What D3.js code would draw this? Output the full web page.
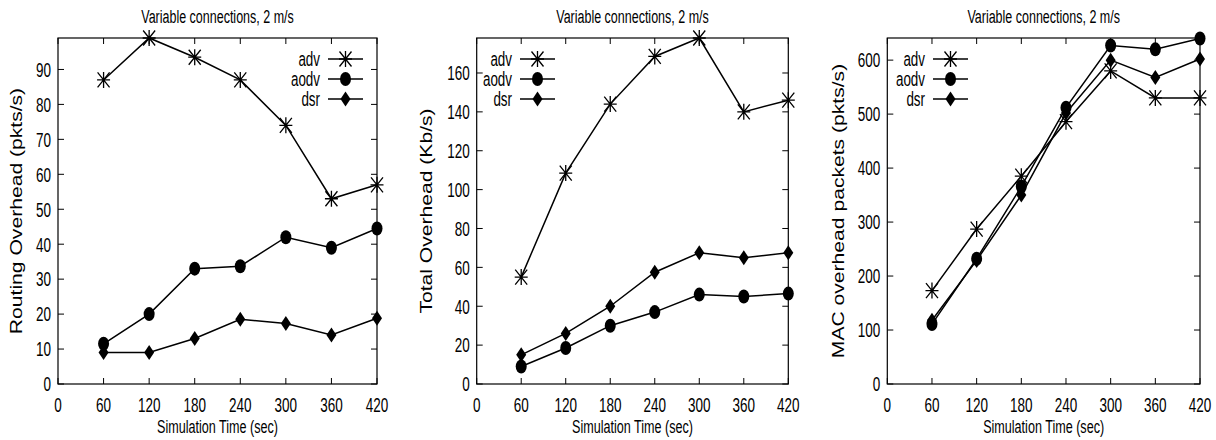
<!DOCTYPE html>
<html>
<head>
<meta charset="utf-8">
<script src="https://cdn.jsdelivr.net/npm/d3@7"></script>
<style>
  body { margin: 0; background: #fff; }
  svg { display: block; }
  text { font-family: 'Liberation Sans', Arial, Helvetica, sans-serif; fill: #000; }
</style>
</head>
<body>
<div id="chart"></div>
<script>
// shared data
const times = [60, 120, 180, 240, 300, 360, 420];
const xTicks = [0, 60, 120, 180, 240, 300, 360, 420];
const seriesNames = ['adv', 'aodv', 'dsr'];
const titleText = 'Variable connections, 2 m/s';
const xLabel = 'Simulation Time (sec)';

// panel 1: routing overhead
const routingAdv = [87, 99, 93.5, 87, 74, 53, 57];
const routingAodv = [11.5, 20, 33, 33.7, 42, 39, 44.5];
const routingDsr = [9, 9, 13, 18.5, 17.3, 14, 18.8];
const routingTicks = [0, 10, 20, 30, 40, 50, 60, 70, 80, 90];

// panel 2: total overhead
const totalAdv = [55, 108.5, 144, 168.5, 178, 140, 146];
const totalAodv = [9, 18.5, 30, 37, 46, 45, 46.5];
const totalDsr = [15, 26, 40, 57.5, 67.5, 65, 67.5];
const totalTicks = [0, 20, 40, 60, 80, 100, 120, 140, 160];

// panel 3: MAC overhead
const macAdv = [173, 287, 385, 486, 580, 530, 530];
const macAodv = [111, 232, 366, 512, 627, 620, 640];
const macDsr = [118, 229, 350, 502, 600, 568, 602];
const macTicks = [0, 100, 200, 300, 400, 500, 600];

const width = 1216, height = 440;
const plotTop = 38, plotBottom = 384;

const panels = [
    { left: 58, right: 377, yMax: 99, yTicks: routingTicks, yLabel: 'Routing Overhead (pkts/s)',
      labelX: 16, legendX: 328, series: [routingAdv, routingAodv, routingDsr] },
    { left: 476.7, right: 788.3, yMax: 178, yTicks: totalTicks, yLabel: 'Total Overhead (Kb/s)',
      labelX: 426, legendX: 520, series: [totalAdv, totalAodv, totalDsr] },
    { left: 887.3, right: 1200, yMax: 641, yTicks: macTicks, yLabel: 'MAC overhead packets (pkts/s)',
      labelX: 838, legendX: 933, series: [macAdv, macAodv, macDsr] }
];

const svg = d3.select('#chart').append('svg')
    .attr('width', width)
    .attr('height', height);

// marker shapes, drawn in pixel space (picture is stretched vertically)
const markerPaths = {
    adv: 'M-6.5,0H6.5M0,-8V8M-6,-7.5L6,7.5M-6,7.5L6,-7.5',
    dsr: 'M0,-7.5L5,0L0,7.5L-5,0Z'
};

function drawMarker(g, name, x, y) {
    if (name === 'aodv') {
        g.append('ellipse')
            .attr('cx', x).attr('cy', y)
            .attr('rx', 5.5).attr('ry', 7)
            .attr('fill', '#000');
    } else if (name === 'adv') {
        g.append('path')
            .attr('transform', `translate(${x},${y})`)
            .attr('d', markerPaths.adv)
            .attr('stroke', '#000')
            .attr('stroke-width', 1.3)
            .attr('fill', 'none');
    } else {
        g.append('path')
            .attr('transform', `translate(${x},${y})`)
            .attr('d', markerPaths.dsr)
            .attr('fill', '#000');
    }
}

// helper for squished text
function stretchedText(parent, x, y, str, size, sy, anchor) {
    return parent.append('g')
        .attr('transform', `translate(${x},${y}) scale(1,${sy})`)
        .append('text')
        .attr('text-anchor', anchor)
        .style('font-size', size + 'px')
        .text(str);
}

panels.forEach(p => {
    const x = d3.scaleLinear().domain([0, 420]).range([p.left, p.right]);
    const y = d3.scaleLinear().domain([0, p.yMax]).range([plotBottom, plotTop]);
    const g = svg.append('g');

    // ticks (inward, mirrored)
    xTicks.forEach(t => {
        g.append('line').attr('x1', x(t)).attr('x2', x(t)).attr('y1', plotBottom).attr('y2', plotBottom - 6)
            .attr('stroke', '#000');
        g.append('line').attr('x1', x(t)).attr('x2', x(t)).attr('y1', plotTop).attr('y2', plotTop + 6)
            .attr('stroke', '#000');
        stretchedText(g, x(t), 412, String(t), 13.5, 1.5, 'middle');
    });
    p.yTicks.forEach(t => {
        g.append('line').attr('x1', p.left).attr('x2', p.left + 6).attr('y1', y(t)).attr('y2', y(t))
            .attr('stroke', '#000');
        g.append('line').attr('x1', p.right).attr('x2', p.right - 6).attr('y1', y(t)).attr('y2', y(t))
            .attr('stroke', '#000');
        stretchedText(g, p.left - 7, y(t) + 7.3, String(t), 13.5, 1.5, 'end');
    });

    // frame
    g.append('rect')
        .attr('x', p.left).attr('y', plotTop)
        .attr('width', p.right - p.left).attr('height', plotBottom - plotTop)
        .attr('fill', 'none')
        .attr('stroke', '#000')
        .attr('stroke-width', 1.2);

    // titles
    stretchedText(g, (p.left + p.right) / 2, 22.7, titleText, 12.5, 1.42, 'middle');
    stretchedText(g, (p.left + p.right) / 2, 433, xLabel, 12.6, 1.5, 'middle');
    g.append('text')
        .attr('transform', `translate(${p.labelX + 5.5},${(plotTop + plotBottom) / 2}) rotate(-90) scale(1.32,1)`)
        .attr('text-anchor', 'middle')
        .style('font-size', '16px')
        .text(p.yLabel);

    // series
    const line = d3.line()
        .x((d, i) => x(times[i]))
        .y(d => y(d));

    p.series.forEach((values, k) => {
        const name = seriesNames[k];
        g.append('path')
            .datum(values)
            .attr('d', line)
            .attr('fill', 'none')
            .attr('stroke', '#000')
            .attr('stroke-width', 1.5);
        values.forEach((v, i) => drawMarker(g, name, x(times[i]), y(v)));

        // legend entry
        const ly = 59 + k * 20;
        g.append('line')
            .attr('x1', p.legendX).attr('x2', p.legendX + 35)
            .attr('y1', ly).attr('y2', ly)
            .attr('stroke', '#000')
            .attr('stroke-width', 1.5);
        drawMarker(g, name, p.legendX + 17.5, ly);
        stretchedText(g, p.legendX - 8, ly + 6.5, name, 13.4, 1.5, 'end');
    });
});
</script>
</body>
</html>
